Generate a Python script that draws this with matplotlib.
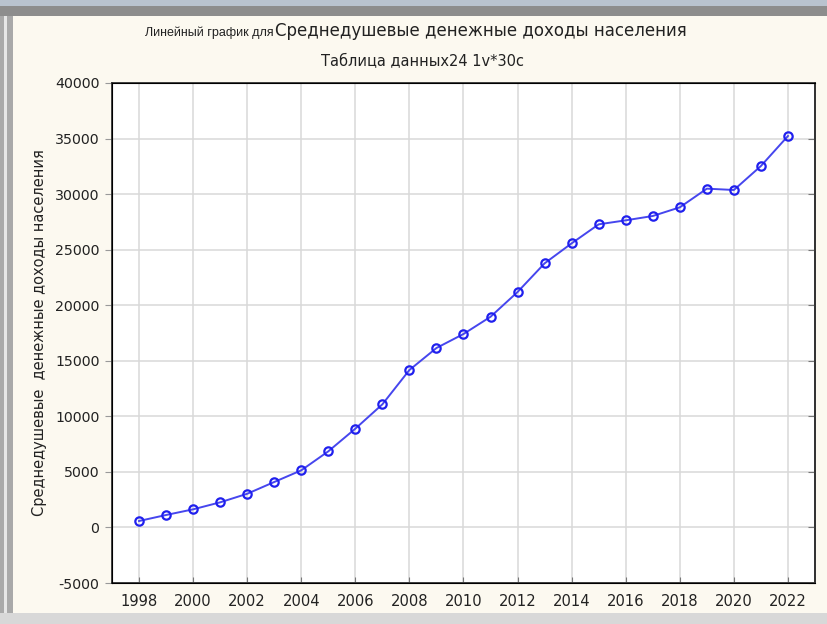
import numpy as np
import matplotlib.pyplot as plt
from matplotlib.patches import Rectangle

# data
years = list(range(1998, 2023))
income = [580, 1120, 1630, 2260, 3030, 4090, 5140, 6850, 8890, 11080,
          14170, 16150, 17410, 18960, 21190, 23770, 25570, 27280, 27640,
          28030, 28810, 30490, 30370, 32530, 35230]
xticks = list(range(1998, 2023, 2))
yticks = list(range(-5000, 40001, 5000))

title1 = 'Линейный график для'
title1b = 'Среднедушевые денежные доходы населения'
title2 = 'Таблица данных24 1v*30c'
ylabel = 'Среднедушевые  денежные доходы населения'

plt.rcParams['font.family'] = ['DejaVu Sans']
plt.rcParams['axes.unicode_minus'] = False

fig = plt.figure(figsize=(8.27, 6.24), dpi=100)
fig.patch.set_facecolor('#fcf9f0')

# window frame bits around the picture
fig.add_artist(Rectangle((0, 0), 0.016, 1, transform=fig.transFigure,
                         facecolor='#a9a9a9', edgecolor='none'))
fig.add_artist(Rectangle((0.005, 0), 0.004, 1, transform=fig.transFigure,
                         facecolor='#e6e6e6', edgecolor='none'))
fig.add_artist(Rectangle((0, 0.975), 1, 0.025, transform=fig.transFigure,
                         facecolor='#8d8d8d', edgecolor='none'))
fig.add_artist(Rectangle((0, 0.99), 1, 0.01, transform=fig.transFigure,
                         facecolor='#b9c3cf', edgecolor='none'))
fig.add_artist(Rectangle((0, 0), 1, 0.018, transform=fig.transFigure,
                         facecolor='#d8d8d8', edgecolor='none'))

ax = fig.add_axes([0.1354, 0.0657, 0.8501, 0.8013])
ax.set_facecolor('white')

ax.plot(years, income, color='#4646ee', linewidth=1.4, marker='o',
        markersize=6, markerfacecolor='none', markeredgecolor='#2020ee',
        markeredgewidth=1.6, zorder=3)

ax.set_xlim(1997, 2023)
ax.set_ylim(-5000, 40000)
ax.set_xticks(xticks)
ax.set_yticks(yticks)
ax.grid(True, color='#d9d9d9', linewidth=1.1)
ax.set_axisbelow(True)

ax.tick_params(axis='x', direction='in', length=4, color='#777777',
               labelsize=10.6, pad=8, labelcolor='#222222')
ax.tick_params(axis='y', direction='out', length=5, color='#999999',
               labelsize=10.2, pad=4, labelcolor='#222222')
for s in ax.spines.values():
    s.set_color('#333333')
    s.set_linewidth(1.3)

# inward ticks on the right edge
ax2 = ax.twinx()
ax2.set_ylim(ax.get_ylim())
ax2.set_yticks(yticks)
ax2.tick_params(axis='y', direction='in', length=5, color='#777777',
                labelright=False)
ax2.spines['right'].set_color('#333333')
ax2.spines['right'].set_linewidth(1.3)

ax.set_ylabel(ylabel, fontsize=10.5, color='#222222')
ax.yaxis.set_label_coords(-0.0925, 0.5)

# title: first words are narrow, the variable name is wide
fig.text(0.175, 0.9423, title1, fontsize=9,
         family=['Liberation Sans Narrow', 'DejaVu Sans Condensed', 'Liberation Sans'],
         color='#222222', va='baseline', ha='left')
fig.text(0.333, 0.9423, title1b, fontsize=12, color='#222222',
         va='baseline', ha='left')
fig.text(0.511, 0.8942, title2, fontsize=10.5, color='#222222',
         ha='center', va='baseline')

fig.savefig('out.png', dpi=100, facecolor=fig.get_facecolor())
